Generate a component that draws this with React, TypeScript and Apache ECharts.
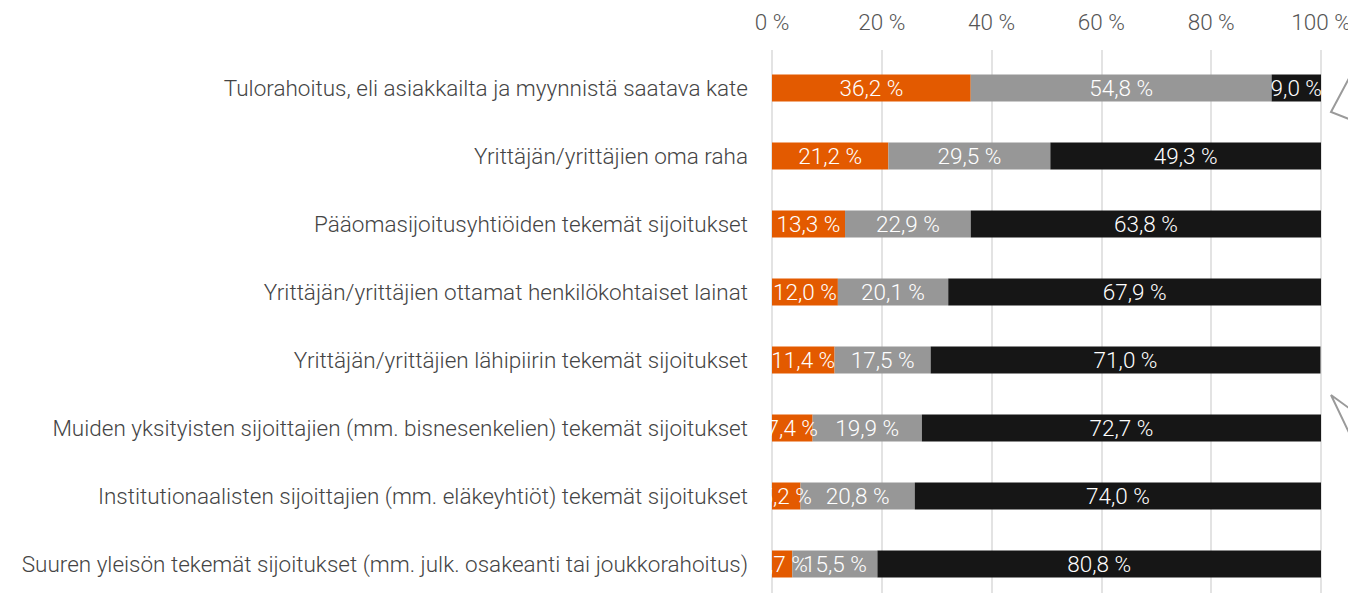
import React, { useEffect, useRef } from "react";
import * as echarts from "echarts";

const categories = [
  "Tulorahoitus, eli asiakkailta ja myynnistä saatava kate",
  "Yrittäjän/yrittäjien oma raha",
  "Pääomasijoitusyhtiöiden tekemät sijoitukset",
  "Yrittäjän/yrittäjien ottamat henkilökohtaiset lainat",
  "Yrittäjän/yrittäjien lähipiirin tekemät sijoitukset",
  "Muiden yksityisten sijoittajien (mm. bisnesenkelien) tekemät sijoitukset",
  "Institutionaalisten sijoittajien (mm. eläkeyhtiöt) tekemät sijoitukset",
  "Suuren yleisön tekemät sijoitukset (mm. julk. osakeanti tai joukkorahoitus)",
];
const seriesOrange = [36.2, 21.2, 13.3, 12.0, 11.4, 7.4, 5.2, 3.7];
const seriesGray = [54.8, 29.5, 22.9, 20.1, 17.5, 19.9, 20.8, 15.5];
const seriesBlack = [9.0, 49.3, 63.8, 67.9, 71.0, 72.7, 74.0, 80.8];
const xTicks = [0, 20, 40, 60, 80, 100];

const FONT = "Roboto";
const FS = 22.5;

export default function App() {
  const ref = useRef<HTMLDivElement>(null);
  useEffect(() => {
    document.documentElement.style.overflow = "hidden";
    document.body.style.overflow = "hidden";
    const chart = echarts.init(ref.current!, null, { renderer: "svg" });
    const fmt = (p: any) => String(p.value.toFixed(1)).replace(".", ",") + " %";
    const mk = (name: string, data: number[], color: string) => ({
      name,
      type: "bar",
      stack: "total",
      data,
      barWidth: 27,
      itemStyle: { color },
      label: {
        show: true,
        position: "inside",
        formatter: fmt,
        color: "#ffffff",
        fontFamily: FONT,
        fontWeight: 300,
        fontSize: FS,
      },
    });
    chart.setOption({
      animation: false,
      grid: {
        left: 764,
        right: 43,
        top: 46,
        height: 544,
        containLabel: false,
        outerBoundsMode: "none",
      },
      xAxis: {
        type: "value",
        position: "top",
        min: 0,
        max: 100,
        interval: 20,
        axisLine: { show: false },
        axisTick: { show: true, length: 4, lineStyle: { color: "#e3e3e3", width: 2 } },
        axisLabel: {
          formatter: (v: number) => (xTicks.includes(v) ? v + " %" : ""),
          color: "#555",
          fontFamily: FONT,
          fontWeight: 300,
          fontSize: FS,
          margin: 21,
        },
        splitLine: { show: true, lineStyle: { color: "#e3e3e3", width: 2 } },
      },
      yAxis: {
        type: "category",
        inverse: true,
        data: categories,
        axisLine: { show: false },
        axisTick: { show: false },
        axisLabel: {
          color: "#444",
          fontFamily: FONT,
          fontWeight: 300,
          fontSize: FS,
          margin: 24,
        },
      },
      series: [
        mk("orange", seriesOrange, "#e35a00"),
        mk("gray", seriesGray, "#979797"),
        mk("black", seriesBlack, "#161616"),
      ],
      graphic: [
        {
          type: "rect",
          z: 100,
          shape: { x: 742, y: 46, width: 21, height: 560 },
          style: { fill: "#ffffff" },
        },
        {
          type: "polyline",
          z: 100,
          shape: { points: [[1356, 42], [1323, 104], [1356, 117]] },
          style: { fill: "none", stroke: "#9a9a9a", lineWidth: 2 },
        },
        {
          type: "polyline",
          z: 100,
          shape: { points: [[1356, 411], [1323, 387], [1356, 456]] },
          style: { fill: "none", stroke: "#9a9a9a", lineWidth: 2 },
        },
      ],
    });
    return () => chart.dispose();
  }, []);
  return <div ref={ref} style={{ width: 1356, height: 620 }} />;
}
